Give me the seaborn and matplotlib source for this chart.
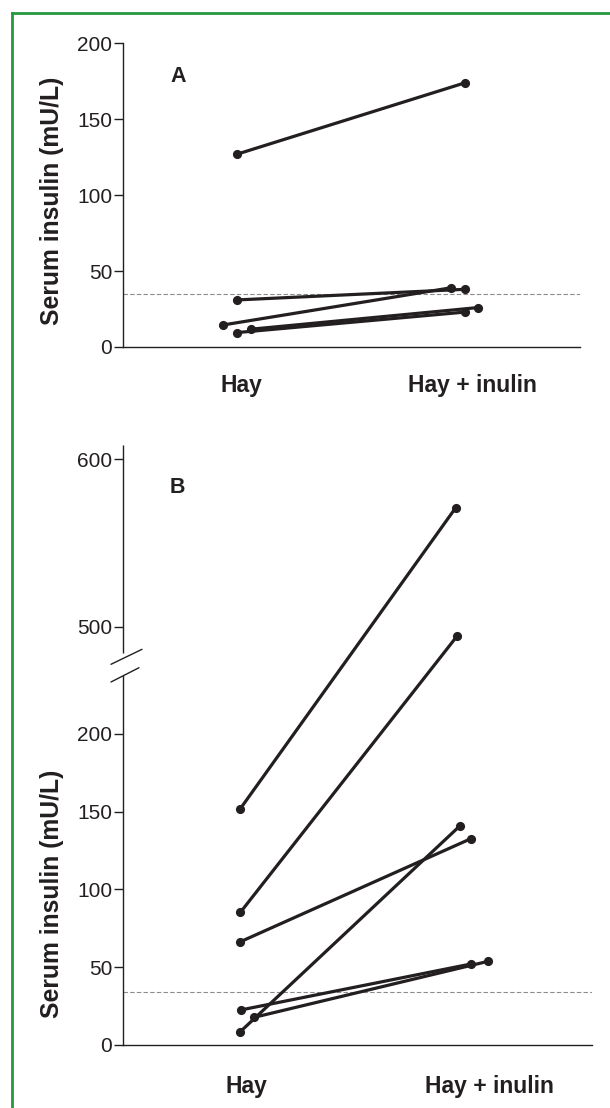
import numpy as np
import pandas as pd
import matplotlib
matplotlib.use("Agg")
import matplotlib.pyplot as plt
import seaborn as sns
from matplotlib.lines import Line2D

# ---------------- data ----------------
conditions = ["Hay", "Hay + inulin"]

# Panel A: serum insulin (mU/L), one value per horse per diet
a_hay = [127, 31, 14.5, 11.7, 9.5]
a_inulin = [174, 38, 39, 26, 23]
a_hay_jitter = [-0.017, -0.017, -0.078, 0.042, -0.017]
a_inulin_jitter = [-0.030, -0.030, -0.091, 0.028, -0.030]
a_reference = 35
a_yticks = [0, 50, 100, 150, 200]

# Panel B
b_hay = [152, 85.3, 66.4, 8.6, 22.5, 17.8]
b_inulin = [571, 494.6, 132.7, 141, 52.1, 53.8]
b_hay_jitter = [-0.023, -0.023, -0.023, -0.023, -0.022, 0.034]
b_inulin_jitter = [-0.137, -0.130, -0.074, -0.119, -0.074, -0.004]
b_reference = 34
b_yticks = [0, 50, 100, 150, 200, 500, 600]

ylabel = "Serum insulin (mU/L)"


def long_form(hay, inulin, hj, ij):
    rows = []
    for i, (h, n, a, b) in enumerate(zip(hay, inulin, hj, ij)):
        rows.append(dict(subject=i, x=0 + a, value=h))
        rows.append(dict(subject=i, x=1 + b, value=n))
    return pd.DataFrame(rows)


dfA = long_form(a_hay, a_inulin, a_hay_jitter, a_inulin_jitter)
dfB = long_form(b_hay, b_inulin, b_hay_jitter, b_inulin_jitter)

# ---------------- style ----------------
sns.set_style("white")
plt.rcParams["font.family"] = ["Liberation Sans", "DejaVu Sans"]
INK = "#231f20"
GREEN = "#26993f"
W, H, DPI = 610, 1108, 100

fig = plt.figure(figsize=(W / DPI, H / DPI), dpi=DPI)
fig.patch.set_facecolor("white")


def px_axes(l, t, r, b):
    return fig.add_axes([l / W, 1 - b / H, (r - l) / W, (b - t) / H])


axA = px_axes(123, 43.3, 580, 347)
axB = px_axes(123, 445, 592, 1045)

# broken (piecewise linear) scale for panel B
seg_v = [-1000, 0, 237, 484, 5000]
seg_t = [-1555, 0, 368.5, 391.5, 391.5 + (5000 - 484) * 1.674]


def fwd(v):
    return np.interp(v, seg_v, seg_t)


def inv(t):
    return np.interp(t, seg_t, seg_v)


axB.set_yscale("function", functions=(fwd, inv))

line_kw = dict(units="subject", estimator=None, sort=True, color=INK,
               linewidth=2.3, marker="o", markersize=6.6,
               markeredgecolor=INK, markerfacecolor=INK, markeredgewidth=0,
               legend=False, zorder=3)

for ax, df, ref in [(axA, dfA, a_reference), (axB, dfB, b_reference)]:
    ax.axhline(ref, color="#8c8c8c", lw=0.8, ls=(0, (4, 2)), zorder=1)
    sns.lineplot(data=df, x="x", y="value", ax=ax, **line_kw)

axA.set_xlim(-0.511, 1.4675)
axA.set_ylim(0, 200)
axB.set_xlim(-0.506, 1.424)
axB.set_ylim(0, 608.5)

for ax, ticks, pad in [(axA, a_yticks, 19.5), (axB, b_yticks, 21.3)]:
    ax.set_facecolor("white")
    for s in ["top", "right"]:
        ax.spines[s].set_visible(False)
    for s in ["left", "bottom"]:
        ax.spines[s].set_color(INK)
        ax.spines[s].set_linewidth(1.0)
    ax.set_yticks(ticks)
    ax.set_yticklabels([str(t) for t in ticks])
    ax.set_xticks([0, 1])
    ax.set_xticklabels(conditions)
    ax.tick_params(axis="y", which="both", left=True, length=6.5, width=1.0,
                   color=INK, pad=1.2, labelsize=15, labelcolor=INK)
    ax.tick_params(axis="x", length=0, pad=pad, labelsize=16.5, labelcolor=INK)
    for lab in ax.get_xticklabels():
        lab.set_fontweight("bold")
    ax.set_xlabel("")
    ax.set_ylabel(ylabel, fontsize=17.8, fontweight="bold", color=INK)
    ax.minorticks_off()

axA.yaxis.set_label_coords(-0.1287, 0.482)
axB.yaxis.set_label_coords(-0.1254, 0.252)

axA.text(0.103, 0.873, "A", transform=axA.transAxes, fontsize=15.5,
         fontweight="bold", color=INK, ha="left", va="baseline")
axB.text(0.100, 0.9205, "B", transform=axB.transAxes, fontsize=15.5,
         fontweight="bold", color=INK, ha="left", va="baseline")

# axis break on panel B
axB.spines["left"].set_bounds(0, 237)
axB.plot([0, 0], [484, 608.5], transform=axB.get_yaxis_transform(),
         color=INK, lw=1.0, clip_on=False, solid_capstyle="butt")
axB.plot([-0.0256, 0.0405], [0.6345, 0.6595], transform=axB.transAxes,
         color=INK, lw=1.0, clip_on=False)
axB.plot([-0.0256, 0.0341], [0.605, 0.6288], transform=axB.transAxes,
         color=INK, lw=1.0, clip_on=False)

# green frame
fx = 11.6 / W
fy = 1 - 13 / H
fig.add_artist(Line2D([fx, fx], [0, fy], transform=fig.transFigure,
                      color=GREEN, lw=2.0, solid_capstyle="projecting"))
fig.add_artist(Line2D([fx, 1.0], [fy, fy], transform=fig.transFigure,
                      color=GREEN, lw=2.0, solid_capstyle="projecting"))

fig.savefig("out.png", dpi=DPI, facecolor="white")
